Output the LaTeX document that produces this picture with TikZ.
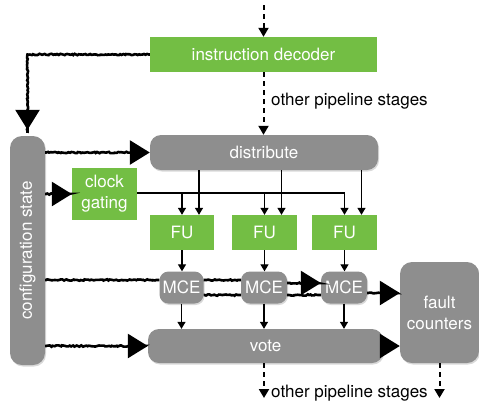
\documentclass[tikz,border=0pt]{standalone}
\usepackage{fontspec}
\setmainfont{TeX Gyre Heros}
\usetikzlibrary{arrows.meta,decorations.pathmorphing,shadows,calc}
\definecolor{boxgreen}{HTML}{73BE44}
\definecolor{boxgray}{HTML}{8E8E8E}
\begin{document}
\begin{tikzpicture}[x=1pt,y=-1pt,
  every node/.style={font=\fontsize{17}{20}\selectfont, text=white, inner sep=0pt, align=center},
  gbox/.style={fill=boxgreen, rectangle},
  rbox/.style={fill=boxgray, rounded corners=11pt, drop shadow={opacity=0.3, shadow xshift=1pt, shadow yshift=-1.5pt}},
  thinarrow/.style={line width=1.3pt, -{Triangle[length=7pt,width=8pt]}},
  thinline/.style={line width=1.3pt},
  dasharrow/.style={line width=2pt, dash pattern=on 5pt off 4pt, -{Triangle[length=9pt,width=10pt]}},
  sketch/.style={line width=2.6pt, decorate, decoration={random steps, segment length=1.6pt, amplitude=0.7pt, pre length=1pt, post length=3pt}},
  sketcharrow/.style={sketch, -{Triangle[length=20pt,width=24pt]}},
  lbl/.style={text=black, anchor=west}
]
\useasboundingbox (0,0) rectangle (479,405);

% nodes
\node[gbox, minimum width=227pt, minimum height=35pt] (dec) at (263.5,54.5) {instruction decoder};
\node[rbox, minimum width=228pt, minimum height=35pt] (dist) at (264,152.5) {distribute};
\node[rbox, minimum width=35pt, minimum height=229pt, rounded corners=12pt] (conf) at (27.5,250.5) {};
\node[rotate=90] (conftxt) at (conf.center) {configuration state};
\node[gbox, minimum width=65pt, minimum height=52pt] (clk) at (104.5,194) {clock\\[1pt]gating};
\node[gbox, minimum width=64pt, minimum height=35pt] (fu1) at (182,232.5) {FU};
\node[gbox, minimum width=65pt, minimum height=35pt] (fu2) at (264.5,232.5) {FU};
\node[gbox, minimum width=65pt, minimum height=35pt] (fu3) at (344.5,232.5) {FU};
\node[rbox, minimum width=44pt, minimum height=32pt, rounded corners=9pt] (mce1) at (181.5,287.5) {MCE};
\node[rbox, minimum width=46pt, minimum height=32pt, rounded corners=9pt] (mce2) at (264,287.5) {MCE};
\node[rbox, minimum width=46pt, minimum height=32pt, rounded corners=9pt] (mce3) at (344,287.5) {MCE};
\node[rbox, minimum width=235pt, minimum height=34pt] (vote) at (265.5,346) {vote};
\node[rbox, minimum width=79pt, minimum height=101pt, rounded corners=12pt] (fault) at (439.5,312.5) {fault\\[1pt]counters};

\node[lbl] (lblA) at (271,101) {other pipeline stages};
\node[lbl] (lblB) at (271,393) {other pipeline stages};

\coordinate (topin) at (263.5,5);
\coordinate (outA) at (264,398);
\coordinate (outB) at (439.5,398);

% dashed pipeline arrows
\draw[dasharrow] (topin) -- (dec.north);
\draw[dasharrow] (dec.south) -- (dec.south |- dist.north);
\draw[dasharrow] (vote.south -| outA) -- (outA);
\draw[dasharrow] (fault.south) -- (outB);

% clock gating bus
\draw[thinline] (clk.east |- 0,193) -- (fu3.north |- 0,193);
\foreach \f in {fu1,fu2,fu3}{
  \draw[thinarrow] (\f.north |- 0,193) -- (\f.north);
  \draw[thinarrow] ($(\f.north |- dist.south)+(17,0)$) -- ($(\f.north)+(17,0)$);
  \draw[thinarrow] (\f.south) -- (\f.south |- mce1.north);
}
\foreach \m in {mce1,mce2,mce3}{
  \draw[thinarrow] (\m.south) -- (\m.south |- vote.north);
}

% sketchy configuration arrows
\draw[sketcharrow, shorten >=6pt] (dec.west) -| (conf.north);
\draw[sketcharrow] (conf.east |- dist.west) -- (dist.west);
\draw[sketcharrow] (conf.east |- clk.west) -- (clk.west);
\draw[sketch] (conf.east |- 0,280) -- (mce1.west |- 0,280);
\draw[sketch] (mce1.east |- 0,280) -- (mce2.west |- 0,280);
\draw[sketch] (mce1.east |- 0,295) -- (mce2.west |- 0,295);
\draw[sketcharrow] (mce2.east |- 0,283) -- (mce3.west |- 0,283);
\draw[sketch] (mce2.east |- 0,295) -- (mce3.west |- 0,295);
\draw[sketcharrow] (mce3.east |- 0,293) -- (fault.west |- 0,293);
\draw[sketcharrow] (conf.east |- vote.west) -- (vote.west);
\draw[sketcharrow] (vote.east) -- (fault.west |- vote.east);
\end{tikzpicture}
\end{document}
